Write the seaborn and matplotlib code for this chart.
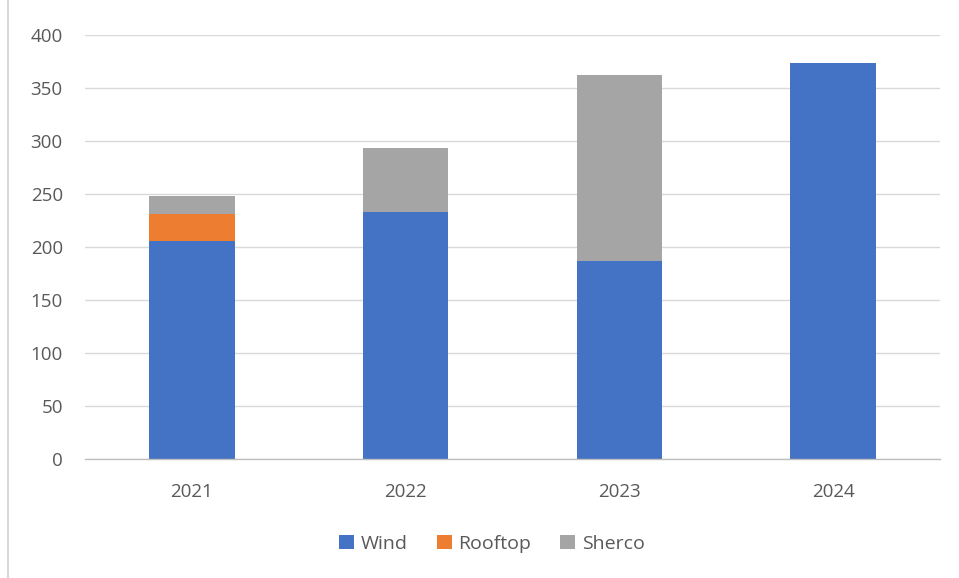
import matplotlib
matplotlib.use("Agg")
import matplotlib.pyplot as plt
import seaborn as sns
import pandas as pd
from matplotlib.lines import Line2D

# data
years = ["2021", "2022", "2023", "2024"]
wind = [206, 233, 187, 374]
rooftop = [25, 0, 0, 0]
sherco = [17, 60, 175, 0]

colors = {"Wind": "#4472C4", "Rooftop": "#ED7D31", "Sherco": "#A5A5A5"}

df = pd.DataFrame({"year": years, "Wind": wind, "Rooftop": rooftop, "Sherco": sherco})

sns.set_style("white")
plt.rcParams["font.family"] = ["Open Sans", "DejaVu Sans"]

fig = plt.figure(figsize=(9.59, 5.78), dpi=100)
ax = fig.add_axes([85 / 959, 1 - 459 / 578, 855 / 959, 424 / 578])

bottom = [0, 0, 0, 0]
for name in ["Wind", "Rooftop", "Sherco"]:
    sns.barplot(data=df, x="year", y=name, color=colors[name], width=0.4,
                bottom=bottom, ax=ax, label=name, saturation=1, edgecolor="none")
    bottom = [b + v for b, v in zip(bottom, df[name])]

ax.set_ylim(0, 400)
ax.set_yticks(range(0, 401, 50))
ax.set_xlim(-0.5, 3.5)
ax.grid(axis="y", color="#D9D9D9", linewidth=1)
ax.set_axisbelow(True)
for s in ["left", "right", "top"]:
    ax.spines[s].set_visible(False)
ax.spines["bottom"].set_color("#BFBFBF")
ax.spines["bottom"].set_linewidth(1)
ax.set_xlabel("")
ax.set_ylabel("")
ax.tick_params(axis="both", length=0, labelsize=13.5, labelcolor="#595959")
ax.tick_params(axis="y", pad=16)
ax.tick_params(axis="x", pad=17)

handles, labels = ax.get_legend_handles_labels()
if ax.get_legend() is not None:
    ax.get_legend().remove()
leg = fig.legend(handles, labels, loc="center", bbox_to_anchor=(492 / 959, 1 - 544 / 578),
                 ncol=3, frameon=False, fontsize=14, handlelength=0.75, handleheight=0.75,
                 handletextpad=0.35, columnspacing=1.5)
for t in leg.get_texts():
    t.set_color("#595959")

# thin frame line on the left edge like the source
fig.add_artist(Line2D([8 / 959, 8 / 959], [0, 1], color="#D9D9D9", linewidth=1.5))

fig.savefig("out.png", dpi=100)
